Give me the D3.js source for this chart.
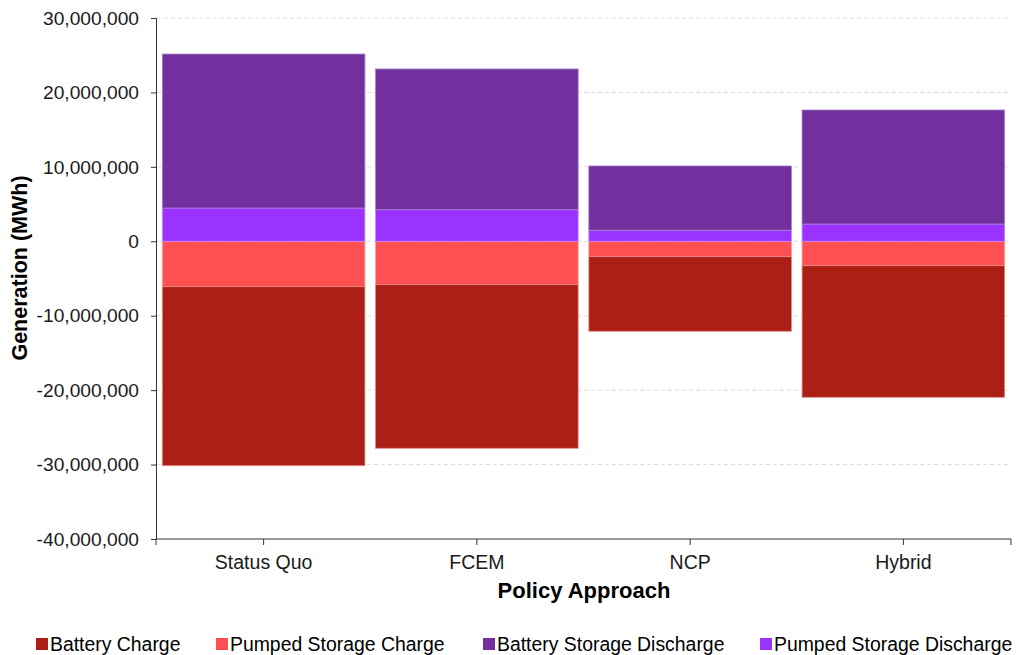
<!DOCTYPE html>
<html>
<head>
<meta charset="utf-8">
<script src="https://cdn.jsdelivr.net/npm/d3@7"></script>
<style>
html,body{margin:0;padding:0;background:#fff;}
svg{display:block;font-family:"Liberation Sans",Arial,sans-serif;}
</style>
</head>
<body>
<svg id="chart" width="1017" height="655"></svg>
<script>
const categories = ["Status Quo", "FCEM", "NCP", "Hybrid"];
const seriesNames = ["Battery Charge", "Pumped Storage Charge", "Battery Storage Discharge", "Pumped Storage Discharge"];
const batteryCharge = [-24050000, -21980000, -10020000, -17680000];
const pumpedCharge = [-6100000, -5830000, -2070000, -3280000];
const batteryDischarge = [20690000, 18900000, 8640000, 15320000];
const pumpedDischarge = [4470000, 4250000, 1480000, 2320000];
const yTicks = [30000000, 20000000, 10000000, 0, -10000000, -20000000, -30000000, -40000000];
const colors = ["#ab1f15", "#fe5050", "#71309e", "#9a33ff"];
const strokes = ["#e08a85", "#ff9a9a", "#a780c4", "#c28aff"];

const svg = d3.select("#chart");
const x = d3.scaleBand().domain(categories).range([157, 1010]).paddingInner(0.05).paddingOuter(0.025);
const y = d3.scaleLinear().domain([-40000000, 30000000]).range([539, 18]);

// gridlines
svg.append("g").selectAll("line").data(yTicks.filter(t => t !== -40000000)).join("line")
  .attr("x1", 157).attr("x2", 1011)
  .attr("y1", d => y(d)).attr("y2", d => y(d))
  .attr("stroke", "#dcdcdc").attr("stroke-width", 1).attr("stroke-dasharray", "4,3");

const rows = categories.map((cat, i) => {
  const r = {cat};
  r[seriesNames[0]] = batteryCharge[i];
  r[seriesNames[1]] = pumpedCharge[i];
  r[seriesNames[2]] = batteryDischarge[i];
  r[seriesNames[3]] = pumpedDischarge[i];
  return r;
});
// order so that pumped values sit adjacent to zero
const stack = d3.stack().keys([seriesNames[1], seriesNames[0], seriesNames[3], seriesNames[2]])
  .offset(d3.stackOffsetDiverging);
const stacked = stack(rows);
const gBars = svg.append("g");
stacked.forEach(layer => {
  const ci = seriesNames.indexOf(layer.key);
  gBars.append("g").selectAll("rect").data(layer).join("rect")
    .attr("x", d => x(d.data.cat))
    .attr("width", x.bandwidth())
    .attr("y", d => y(Math.max(d[0], d[1])))
    .attr("height", d => Math.abs(y(d[0]) - y(d[1])))
    .attr("fill", colors[ci])
    .attr("stroke", strokes[ci]).attr("stroke-width", 0.8);
});

const fmt = d3.formatLocale({decimal: ".", thousands: ",", grouping: [3], currency: ["", ""], minus: "-"}).format(",");

// y axis
const yAxis = d3.axisLeft(y).tickValues(yTicks).tickSize(5).tickPadding(12).tickFormat(fmt);
const gy = svg.append("g").attr("transform", "translate(156,0)").call(yAxis);
gy.select(".domain").attr("stroke", "#333");
gy.selectAll(".tick line").attr("stroke", "#333");
gy.selectAll("text").attr("font-size", 19.2).attr("fill", "#1a1a1a").attr("font-family", "Liberation Sans, Arial, sans-serif");

// x axis
const xAxis = d3.axisBottom(x).tickSize(6).tickSizeOuter(6).tickPadding(10);
const gx = svg.append("g").attr("transform", "translate(0,539)").call(xAxis);
gx.select(".domain").attr("stroke", "#333").attr("d", "M156,6V0H1011V6");
gx.selectAll(".tick line").attr("stroke", "#333");
gx.selectAll("text").attr("font-size", 19.5).attr("fill", "#1a1a1a").attr("font-family", "Liberation Sans, Arial, sans-serif");

// titles
svg.append("text").attr("x", 584).attr("y", 598).attr("text-anchor", "middle")
  .attr("font-size", 22).attr("font-weight", "bold").attr("fill", "#000").text("Policy Approach");
svg.append("text").attr("transform", "translate(27,268) rotate(-90)").attr("text-anchor", "middle")
  .attr("font-size", 21.5).attr("font-weight", "bold").attr("fill", "#000").text("Generation (MWh)");

// legend
const legendX = [36, 216, 483, 760];
const lg = svg.append("g");
seriesNames.forEach((n, i) => {
  lg.append("rect").attr("x", legendX[i]).attr("y", 638).attr("width", 12).attr("height", 12).attr("fill", colors[i]);
  lg.append("text").attr("x", legendX[i] + 14).attr("y", 651).attr("font-size", 19.4).attr("fill", "#000").text(n);
});
</script>
</body>
</html>
